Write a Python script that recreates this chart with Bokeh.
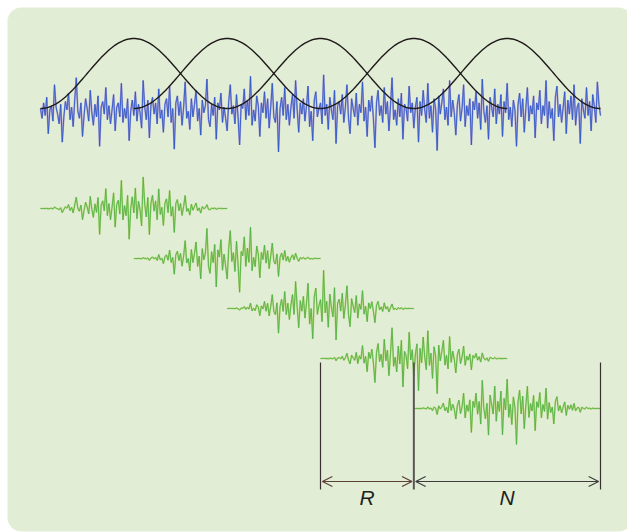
import numpy as np
from bokeh.plotting import figure
from bokeh.models import Range1d, Arrow, OpenHead, Label
from bokeh.embed import file_html
from bokeh.resources import INLINE

# Overlap-add framing: hop size R and window length N, in samples
HOP = 60
WIN_LEN = 2 * HOP
N_FRAMES = 5

# Input signal, one value per sample (samples 0 .. 360)
signal = [
    0.04, -0.10, 0.12, -0.06, 0.20, -0.32, 0.02, 0.08, -0.14, 0.38, 0.06, -0.04, -0.18, 0.10, -0.44, -0.08, 0.14, 0.02, 0.26, -0.12,
    0.06, -0.22, 0.16, 0.48, 0.00, -0.10, 0.12, -0.36, -0.06, 0.18, 0.04, -0.14, 0.30, -0.02, -0.20, 0.10, -0.08, 0.22, -0.50, 0.06,
    0.14, -0.04, 0.34, -0.12, 0.08, -0.18, 0.02, 0.24, -0.28, 0.06, 0.12, -0.08, 0.40, -0.16, 0.04, -0.10, 0.18, -0.42, 0.00, 0.16,
    -0.06, 0.28, -0.14, 0.10, -0.02, -0.24, 0.44, 0.06, -0.12, 0.16, -0.38, 0.08, 0.20, -0.04, 0.12, -0.18, 0.32, -0.10, 0.02, -0.30,
    0.10, 0.18, -0.08, 0.36, -0.16, 0.04, -0.54, 0.12, 0.22, -0.06, 0.14, -0.20, 0.06, 0.42, -0.10, 0.00, -0.26, 0.18, -0.08, 0.10,
    0.30, -0.14, 0.04, -0.34, 0.16, -0.02, 0.08, 0.46, -0.12, -0.22, 0.10, -0.06, 0.20, -0.40, 0.12, 0.02, 0.26, -0.16, 0.06, -0.10,
    -0.28, 0.14, 0.38, -0.04, 0.08, -0.18, 0.24, -0.08, -0.48, 0.10, 0.04, 0.32, -0.12, 0.16, -0.06, 0.50, -0.20, 0.02, -0.14, 0.22,
    0.08, -0.36, 0.12, -0.02, 0.28, -0.10, 0.18, -0.24, 0.06, 0.40, -0.08, -0.16, 0.14, -0.58, 0.04, 0.20, -0.06, 0.34, -0.12, 0.10,
    -0.20, 0.06, 0.24, -0.10, 0.44, 0.02, -0.30, 0.12, -0.04, 0.18, -0.14, 0.08, 0.36, -0.22, 0.00, -0.42, 0.16, 0.28, -0.08, 0.04,
    0.12, -0.18, 0.52, -0.06, 0.10, -0.26, 0.20, 0.02, -0.12, 0.30, -0.46, 0.08, 0.14, -0.04, 0.24, -0.16, 0.06, 0.38, -0.10, -0.32,
    0.18, 0.04, -0.08, 0.26, -0.20, 0.10, -0.02, 0.42, -0.14, 0.06, -0.36, 0.16, 0.00, 0.22, -0.10, -0.52, 0.12, 0.30, -0.06, 0.08,
    -0.16, 0.34, -0.04, 0.14, -0.28, 0.08, 0.48, -0.12, 0.02, -0.20, 0.18, -0.08, 0.26, -0.40, 0.10, 0.04, -0.14, 0.36, -0.02, 0.12,
    -0.24, 0.06, 0.20, -0.44, 0.14, -0.06, 0.30, 0.02, -0.16, 0.40, -0.10, 0.08, -0.30, 0.18, 0.04, -0.56, 0.22, -0.04, 0.12, 0.32,
    -0.12, 0.06, -0.20, 0.44, -0.08, 0.16, -0.02, -0.34, 0.10, 0.24, -0.14, 0.04, 0.38, -0.22, 0.08, -0.06, 0.18, -0.48, 0.14, 0.02,
    0.28, -0.10, 0.12, -0.26, 0.46, 0.00, -0.16, 0.08, -0.40, 0.20, 0.06, -0.08, 0.32, -0.18, 0.10, -0.04, 0.24, -0.36, 0.14, -0.02,
    0.40, -0.12, 0.06, -0.22, 0.16, 0.02, -0.50, 0.10, 0.26, -0.08, 0.18, -0.30, 0.04, 0.34, -0.14, 0.08, -0.04, 0.22, -0.38, 0.12,
    0.02, 0.30, -0.18, 0.08, -0.06, 0.44, -0.24, 0.14, -0.10, 0.04, -0.42, 0.20, 0.36, -0.08, 0.10, -0.16, 0.06, 0.28, -0.32, 0.16,
    -0.04, 0.22, -0.12, 0.38, -0.20, 0.06, 0.12, -0.46, 0.18, 0.02, -0.10, 0.34, -0.06, 0.14, -0.28, 0.24, 0.08, -0.16, 0.42, 0.10,
    -0.06,
]

# Rising half of the raised-cosine analysis window (samples 0 .. 60)
window_half = [
    0.0, 0.0007, 0.0027, 0.0062, 0.0109, 0.0170, 0.0245, 0.0332, 0.0432, 0.0545,
    0.0670, 0.0807, 0.0955, 0.1114, 0.1284, 0.1464, 0.1654, 0.1853, 0.2061, 0.2277,
    0.25, 0.2730, 0.2966, 0.3208, 0.3455, 0.3706, 0.3960, 0.4218, 0.4477, 0.4738,
    0.5, 0.5262, 0.5523, 0.5782, 0.6040, 0.6294, 0.6545, 0.6792, 0.7034, 0.7270,
    0.75, 0.7723, 0.7939, 0.8147, 0.8346, 0.8536, 0.8716, 0.8886, 0.9045, 0.9193,
    0.9330, 0.9455, 0.9568, 0.9668, 0.9755, 0.9830, 0.9891, 0.9938, 0.9973, 0.9993,
    1.0,
]
window = window_half + window_half[-2::-1]

interval_labels = ["R", "N"]

# ---- page geometry (pixels) ----
W, H = 627, 532
X_ORIGIN_PX = 40
PX_PER_SAMPLE = 560 / (6 * HOP)
UNIT_PX = 70
TOP_BASE_PX = 108


def px_x(px):
    return (px - X_ORIGIN_PX) / PX_PER_SAMPLE


def px_y(py):
    return (TOP_BASE_PX - py) / UNIT_PX


p = figure(
    width=W, height=H,
    x_range=Range1d(px_x(0), px_x(W)),
    y_range=Range1d(px_y(H), px_y(0)),
    output_backend="svg", toolbar_location=None,
    x_axis_location=None, y_axis_location=None,
    min_border=0,
)
p.grid.visible = False
p.outline_line_color = None
p.background_fill_color = "white"
p.border_fill_color = "white"

# rounded panel behind everything
p.quad(left=[px_x(7)], right=[px_x(632)], top=[px_y(7)], bottom=[px_y(531)],
       fill_color="#e2edd5", line_color=None, border_radius=14)

sig = np.array(signal)
win = np.array(window)
n = np.arange(len(sig))
SIGNAL_SHIFT = -0.04

# full input signal
p.line(n, sig + SIGNAL_SHIFT, line_color="#a391d2", line_width=1.8, line_alpha=0.8)
p.line(n, sig + SIGNAL_SHIFT, line_color="#3159c8", line_width=0.9)

# analysis windows over the signal
for k in range(N_FRAMES):
    idx = np.arange(k * HOP, k * HOP + WIN_LEN + 1)
    p.line(idx, win, line_color="#1e1a1a", line_width=1.4)

# windowed frames, stacked downwards
FRAME_SCALE = 1.05
for k in range(N_FRAMES):
    idx = np.arange(k * HOP, k * HOP + WIN_LEN + 1)
    frame = sig[idx] * win * FRAME_SCALE
    base = px_y(208 + 50 * k)
    p.line(idx, frame + base, line_color="#a8cf52", line_width=1.7, line_alpha=0.7)
    p.line(idx, frame + base, line_color="#4fb047", line_width=0.85)

# hop / window-length markers under the last two frames
r_start = (N_FRAMES - 2) * HOP
r_end = r_start + HOP
n_end = r_end + WIN_LEN
top_y, bot_y = px_y(362), px_y(489)
p.segment(x0=[r_start, n_end], y0=[top_y] * 2, x1=[r_start, n_end], y1=[bot_y] * 2,
          line_color="#3b3130", line_width=1.2)
p.segment(x0=[r_end], y0=[top_y], x1=[r_end], y1=[bot_y],
          line_color="#5a5656", line_width=2.0)

arrow_y = px_y(481)
for (a, b), col in zip([(r_start, r_end), (r_end, n_end)], ["#5a4035", "#3d3d3d"]):
    p.add_layout(Arrow(
        x_start=a + 1.2, x_end=b - 1.2, y_start=arrow_y, y_end=arrow_y,
        line_color=col, line_width=1.2,
        start=OpenHead(size=10, line_color=col, line_width=1.2),
        end=OpenHead(size=10, line_color=col, line_width=1.2),
    ))

label_y = px_y(497)
for (a, b), txt in zip([(r_start, r_end), (r_end, n_end)], interval_labels):
    p.add_layout(Label(
        x=(a + b) / 2, y=label_y, text=txt,
        text_font="Liberation Sans", text_font_style="italic",
        text_font_size="21px", text_color="#231f20",
        text_align="center", text_baseline="middle",
    ))

open("out.html", "w").write(file_html(p, INLINE))
